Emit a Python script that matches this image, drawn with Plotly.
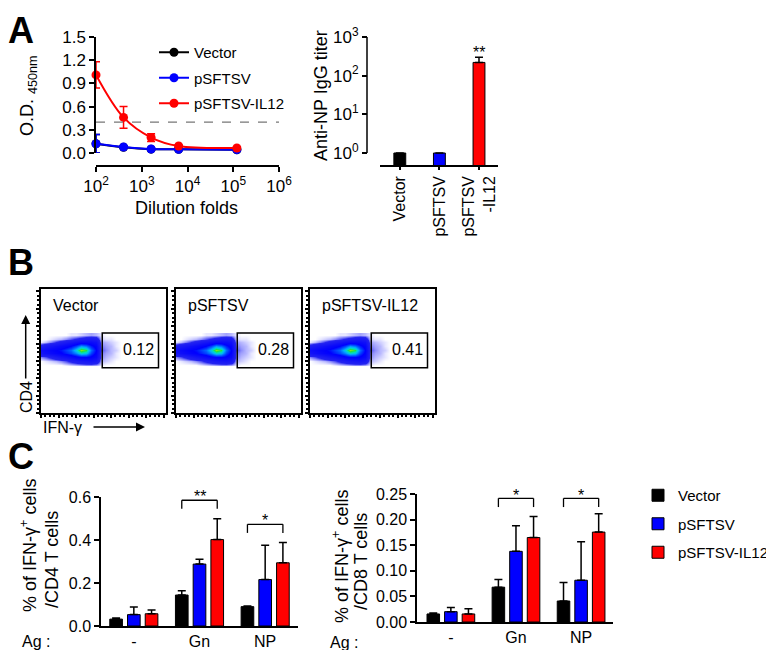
import plotly.graph_objects as go

W, H = 774, 650
OFF = 8  # page body margin: the figure sits 8 px right of and below the window corner
FONT = "Liberation Sans, Arial, sans-serif"

def px(x):
    return (x - OFF) / W

def py(y):
    return 1 - (y - OFF) / H

# ---------------- data ----------------
groups = ["Vector", "pSFTSV", "pSFTSV-IL12"]
colors = ["#000000", "#0000ff", "#ff0000"]

# Panel A (ELISA, O.D. 450nm)
dilution = [100, 400, 1600, 6400, 120000]
od_vector = [0.12, 0.075, 0.05, 0.048, 0.042]
od_vector_err = [0.12, 0.01, 0.008, 0.006, 0.006]
od_psftsv = [0.12, 0.078, 0.052, 0.048, 0.043]
od_psftsv_err = [0.12, 0.01, 0.008, 0.006, 0.006]
od_il12 = [1.01, 0.46, 0.20, 0.09, 0.065]
od_il12_err = [0.17, 0.14, 0.05, 0.01, 0.01]
od_cutoff = 0.4
dilution_ticks = [1e2, 1e3, 1e4, 1e5, 1e6]
dilution_ticktext = ["10<sup>2</sup>", "10<sup>3</sup>", "10<sup>4</sup>", "10<sup>5</sup>", "10<sup>6</sup>"]

# Panel A (anti-NP IgG titer)
titer_labels = ["Vector", "pSFTSV", "pSFTSV<br>-IL12"]
titer = [1, 1, 220]
titer_err = [0, 0, 80]
titer_ticks = [1, 10, 100, 1000]
titer_ticktext = ["10<sup>0</sup>", "10<sup>1</sup>", "10<sup>2</sup>", "10<sup>3</sup>"]

# Panel B (flow cytometry, CD4 vs IFN-gamma)
gate_pct = ["0.12", "0.28", "0.41"]
density_x = [0, 4, 8, 12, 16, 20, 24, 28, 32, 36, 40, 44, 48, 52, 56, 60, 64]
density_y = [39, 42, 45, 48, 51, 54, 57, 60, 63]
density = [
    [0, 0, 0, 0, 0, 0.01, 0.02, 0.03, 0.04, 0.05, 0.05, 0.04, 0.01, 0, 0, 0, 0],
    [0, 0.01, 0.02, 0.03, 0.05, 0.08, 0.12, 0.16, 0.2, 0.22, 0.24, 0.2, 0.03, 0.02, 0.01, 0, 0],
    [0.05, 0.08, 0.12, 0.18, 0.24, 0.28, 0.34, 0.4, 0.44, 0.45, 0.42, 0.35, 0.05, 0.03, 0.02, 0.01, 0],
    [0.25, 0.3, 0.35, 0.4, 0.44, 0.5, 0.56, 0.66, 0.8, 0.76, 0.55, 0.42, 0.06, 0.04, 0.03, 0.01, 0],
    [0.3, 0.35, 0.4, 0.44, 0.48, 0.55, 0.62, 0.78, 0.97, 0.9, 0.62, 0.45, 0.08, 0.05, 0.03, 0.02, 0],
    [0.15, 0.2, 0.25, 0.3, 0.35, 0.4, 0.46, 0.56, 0.7, 0.64, 0.5, 0.4, 0.06, 0.04, 0.03, 0.01, 0],
    [0.01, 0.03, 0.06, 0.1, 0.15, 0.2, 0.25, 0.3, 0.35, 0.35, 0.34, 0.3, 0.04, 0.03, 0.02, 0.01, 0],
    [0, 0, 0.01, 0.02, 0.03, 0.05, 0.08, 0.11, 0.14, 0.17, 0.19, 0.17, 0.02, 0.01, 0.01, 0, 0],
    [0, 0, 0, 0, 0, 0, 0.01, 0.01, 0.02, 0.03, 0.04, 0.03, 0.01, 0, 0, 0, 0],
]
gate_box = [49, 94, 36.5, 64.5]  # x0, x1, y0, y1 in plot units

# Panel C (% IFN-gamma+ cells)
ag = ["-", "Gn", "NP"]
cd4_vals = [
    [0.032, 0.144, 0.090],
    [0.053, 0.288, 0.216],
    [0.057, 0.402, 0.294],
]
cd4_err = [
    [0.005, 0.020, 0.003],
    [0.035, 0.023, 0.160],
    [0.017, 0.097, 0.094],
]
cd8_vals = [
    [0.0157, 0.068, 0.041],
    [0.0202, 0.138, 0.0816],
    [0.0157, 0.165, 0.1756],
]
cd8_err = [
    [0.002, 0.015, 0.036],
    [0.008, 0.050, 0.075],
    [0.010, 0.041, 0.036],
]
cd4_sig = [("Gn", "**", 0.585), ("NP", "*", 0.473)]
cd8_sig = [("Gn", "*", 0.2415), ("NP", "*", 0.2415)]

BARGAP = 0.19
BARGROUPGAP = 0.286

fig = go.Figure()

# ---------------- Panel A: ELISA curves ----------------
od_series = [(od_vector, od_vector_err), (od_psftsv, od_psftsv_err), (od_il12, od_il12_err)]
for name, col, (vals, err) in zip(groups, colors, od_series):
    fig.add_trace(go.Scatter(
        x=dilution, y=vals, name=name, mode="lines+markers",
        line=dict(color=col, width=2, shape="spline"),
        marker=dict(color=col, size=9),
        error_y=dict(type="data", array=err, color=col, thickness=1.5, width=4),
        xaxis="x", yaxis="y", legend="legend", legendgroup=name,
        cliponaxis=False,
    ))

# ---------------- Panel A: titer bars ----------------
fig.add_trace(go.Bar(
    x=titer_labels, y=titer, width=0.3,
    marker=dict(color=colors, line=dict(color="black", width=1)),
    error_y=dict(type="data", array=titer_err, arrayminus=[0, 0, 0], symmetric=False,
                 color="black", thickness=1.5, width=4),
    xaxis="x2", yaxis="y2", showlegend=False,
))

# ---------------- Panel B: flow plots ----------------
jet_like = [
    [0.0, "#ffffff"], [0.03, "#b8b8ff"], [0.1, "#2424f0"], [0.45, "#0000ff"],
    [0.6, "#0060ff"], [0.72, "#00b0ff"], [0.82, "#00e0c0"], [0.9, "#20e040"],
    [1.0, "#c0f000"],
]
for i in range(3):
    fig.add_trace(go.Heatmap(
        x=density_x, y=density_y, z=density, zmin=0, zmax=1,
        colorscale=jet_like, zsmooth="best", showscale=False, hoverinfo="skip",
        xaxis=f"x{3 + i}", yaxis=f"y{3 + i}",
    ))

# ---------------- Panel C: bars ----------------
for k in range(3):
    fig.add_trace(go.Bar(
        x=ag, y=cd4_vals[k], name=groups[k],
        marker=dict(color=colors[k], line=dict(color="black", width=1)),
        error_y=dict(type="data", array=cd4_err[k], arrayminus=[0, 0, 0], symmetric=False,
                     color="black", thickness=1.5, width=4),
        xaxis="x6", yaxis="y6", legend="legend2", legendgroup="c" + groups[k],
    ))
for k in range(3):
    fig.add_trace(go.Bar(
        x=ag, y=cd8_vals[k], name=groups[k],
        marker=dict(color=colors[k], line=dict(color="black", width=1)),
        error_y=dict(type="data", array=cd8_err[k], arrayminus=[0, 0, 0], symmetric=False,
                     color="black", thickness=1.5, width=4),
        xaxis="x7", yaxis="y7", showlegend=False,
    ))

axis_common = dict(showgrid=False, zeroline=False, linecolor="black", linewidth=1.5,
                   automargin=False,
                   tickcolor="black", tickwidth=1.5, tickfont=dict(size=16, color="black"))

layout = dict(
    template="none",
    width=W, height=H, margin=dict(l=0, r=0, t=0, b=0, pad=0, autoexpand=False),
    paper_bgcolor="white", plot_bgcolor="rgba(0,0,0,0)",
    font=dict(family=FONT, color="black", size=16),
    barmode="group", bargap=BARGAP, bargroupgap=BARGROUPGAP,
    showlegend=True,
    legend=dict(x=px(154), y=py(36), xanchor="left", yanchor="top",
                font=dict(size=15), bgcolor="rgba(0,0,0,0)", tracegroupgap=3,
                itemwidth=30),
    legend2=dict(x=px(638), y=py(479), xanchor="left", yanchor="top",
                 font=dict(size=15), bgcolor="rgba(0,0,0,0)", tracegroupgap=6),
)

# Panel A axes
layout["xaxis"] = dict(axis_common, type="log", domain=[px(96), px(279)], range=[2, 6],
                       anchor="free", position=py(166), showline=True, ticks="outside", ticklen=5,
                       tickvals=dilution_ticks, ticktext=dilution_ticktext, tickfont=dict(size=17))
layout["yaxis"] = dict(axis_common, domain=[py(153), py(37)], range=[0, 1.5], dtick=0.3,
                       tickformat=".1f", anchor="x", showline=True, ticks="outside", ticklen=5,
                       tickfont=dict(size=17))
layout["xaxis2"] = dict(axis_common, domain=[px(380), px(498)], range=[-0.5, 2.48], anchor="y2",
                        showline=True, ticks="outside", ticklen=3, tickangle=-90)
layout["yaxis2"] = dict(axis_common, type="log", domain=[py(165), py(37)], range=[-0.31, 3],
                        anchor="free", position=px(367), showline=False, ticks="outside", ticklen=5,
                        tickvals=titer_ticks, ticktext=titer_ticktext, tickfont=dict(size=17))

# Panel B axes
b_left = [41, 176, 310]
for i in range(3):
    layout[f"xaxis{3 + i}"] = dict(axis_common, domain=[px(b_left[i]), px(b_left[i] + 125)],
                                   range=[0, 100], anchor=f"y{3 + i}", showline=True, mirror=True,
                                   ticks="outside", ticklen=3, dtick=14, showticklabels=False,
                                   minor=dict(ticks="outside", ticklen=2, dtick=3.5, tickcolor="black"))
    layout[f"yaxis{3 + i}"] = dict(axis_common, domain=[py(413), py(289)], range=[0, 100],
                                   anchor=f"x{3 + i}", showline=True, mirror=True,
                                   ticks="outside", ticklen=3, dtick=14, showticklabels=False,
                                   minor=dict(ticks="outside", ticklen=2, dtick=3.5, tickcolor="black"))

# Panel C axes
layout["xaxis6"] = dict(axis_common, domain=[px(101), px(298)], range=[-0.5, 2.5], anchor="y6",
                        showline=True, ticks="")
layout["yaxis6"] = dict(axis_common, domain=[py(626), py(497)], range=[0, 0.6], dtick=0.2,
                        tickformat=".1f", anchor="x6", showline=True, ticks="outside", ticklen=5)
layout["xaxis7"] = dict(axis_common, domain=[px(417), px(613)], range=[-0.52, 2.49], anchor="y7",
                        showline=True, ticks="")
layout["yaxis7"] = dict(axis_common, domain=[py(622), py(494)], range=[0, 0.25], dtick=0.05,
                        tickformat=".2f", anchor="x7", showline=True, ticks="outside", ticklen=5)

fig.update_layout(**layout)

shapes = []
# cutoff line
shapes.append(dict(type="line", xref="x domain", yref="y", x0=0, x1=1, y0=od_cutoff, y1=od_cutoff,
                   line=dict(color="#777777", width=1.2, dash="dash")))
# titer y-axis line (10^0 to 10^3)
shapes.append(dict(type="line", xref="paper", yref="paper", x0=px(367), x1=px(367),
                   y0=py(153), y1=py(37), line=dict(color="black", width=1.5)))
# gates
for i in range(3):
    shapes.append(dict(type="rect", xref=f"x{3 + i}", yref=f"y{3 + i}",
                       x0=gate_box[0], x1=gate_box[1], y0=gate_box[2], y1=gate_box[3],
                       line=dict(color="black", width=1.5)))
# significance brackets
slot = (1 - BARGAP) / 3
def bracket(xref, yref, cat_idx, ytop, drop):
    xa = cat_idx - slot
    xb = cat_idx + slot
    return [
        dict(type="line", xref=xref, yref=yref, x0=xa, x1=xb, y0=ytop, y1=ytop, line=dict(color="black", width=1.3)),
        dict(type="line", xref=xref, yref=yref, x0=xa, x1=xa, y0=ytop, y1=ytop - drop, line=dict(color="black", width=1.3)),
        dict(type="line", xref=xref, yref=yref, x0=xb, x1=xb, y0=ytop, y1=ytop - drop, line=dict(color="black", width=1.3)),
    ]

annotations = []
for cat, star, ytop in cd4_sig:
    ci = ag.index(cat)
    shapes += bracket("x6", "y6", ci, ytop, 0.04)
    annotations.append(dict(x=ci, y=ytop - 0.03, xref="x6", yref="y6", text=star, showarrow=False,
                            yanchor="bottom", font=dict(size=16)))
for cat, star, ytop in cd8_sig:
    ci = ag.index(cat)
    shapes += bracket("x7", "y7", ci, ytop, 0.017)
    annotations.append(dict(x=ci, y=ytop - 0.0145, xref="x7", yref="y7", text=star, showarrow=False,
                            yanchor="bottom", font=dict(size=16)))

def ann(x, y, text, size=16, angle=0, bold=False, xanchor="center", yanchor="middle"):
    t = f"<b>{text}</b>" if bold else text
    return dict(x=px(x), y=py(y), xref="paper", yref="paper", text=t, showarrow=False,
                textangle=angle, font=dict(size=size, family=FONT, color="black"),
                xanchor=xanchor, yanchor=yanchor)

# panel letters (A kept fully inside the figure area)
annotations.append(ann(21, 30, "A", size=36, bold=True))
annotations.append(ann(21, 262, "B", size=36, bold=True))
annotations.append(ann(21, 456, "C", size=36, bold=True))

# Panel A titles
annotations.append(ann(28, 96, "O.D. <sub>450nm</sub>", size=18, angle=-90))
annotations.append(ann(186, 208, "Dilution folds", size=18))
annotations.append(ann(321, 96, "Anti-NP IgG titer", size=18, angle=-90))
annotations.append(dict(x=2, y=py(52), xref="x2", yref="paper", text="**", showarrow=False,
                        font=dict(size=16), yanchor="middle"))

# Panel B labels
for i in range(3):
    annotations.append(dict(x=8, y=87, xref=f"x{3 + i}", yref=f"y{3 + i}", text=groups[i],
                            showarrow=False, xanchor="left", font=dict(size=16)))
    annotations.append(dict(x=gate_box[1] - 2, y=51.5, xref=f"x{3 + i}", yref=f"y{3 + i}",
                            text=gate_pct[i], showarrow=False, xanchor="right", font=dict(size=16)))
annotations.append(ann(26, 397, "CD4", size=16, angle=-90))
annotations.append(ann(62, 427, "IFN-γ", size=16))
annotations.append(dict(x=px(25.7), y=py(315), xref="paper", yref="paper", text="", showarrow=True,
                        ax=0, ay=65, arrowhead=2, arrowsize=1.2, arrowwidth=1.5, arrowcolor="black"))
annotations.append(dict(x=px(145), y=py(427), xref="paper", yref="paper", text="", showarrow=True,
                        ax=-53, ay=0, arrowhead=2, arrowsize=1.2, arrowwidth=1.5, arrowcolor="black"))

# Panel C titles
annotations.append(ann(28, 546, "% of IFN-γ<sup>+</sup> cells", size=18, angle=-90))
annotations.append(ann(52, 560, "/CD4 T cells", size=18, angle=-90))
annotations.append(ann(340, 557, "% of IFN-γ<sup>+</sup> cells", size=18, angle=-90))
annotations.append(ann(361, 562, "/CD8 T cells", size=18, angle=-90))
annotations.append(ann(36, 641, "Ag :", size=16))
annotations.append(ann(344, 642, "Ag :", size=16))

fig.update_layout(shapes=shapes, annotations=annotations)
fig.write_html("out.html")
